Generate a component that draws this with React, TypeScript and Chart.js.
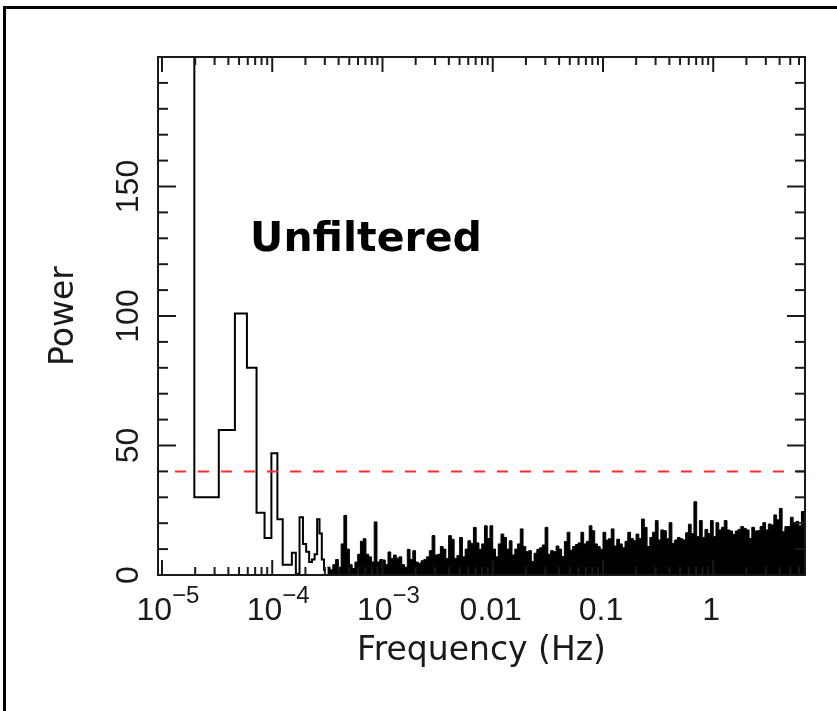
import React, { useEffect, useRef } from 'react';
import { Chart, registerables } from 'chart.js';

Chart.register(...registerables);

// ---------- axis ranges ----------
const FREQ_MIN_HZ = 9.2e-6;
const FREQ_MAX_HZ = 6.8;
const POWER_MIN = 0;
const POWER_MAX = 200;
const THRESHOLD_POWER = 40;

// ---------- data ----------
// frequency resolution of the power spectrum (Hz)
const binWidthHz = 1.31e-5;
// power of the first individual frequency bins k = 1, 2, 3, ...
const lowBinPower = [250, 30, 56, 101, 80, 24, 14.3, 47, 21.5, 4, 4, 8.6, 0.5, 22.3, 12, 9, 5, 6, 8, 21.5, 16, 6, 2];

// dense part of the spectrum: peak power per column, 40 columns per decade
const denseColumnsPerDecade = 40;
const denseDecadeStartHz = [1e-4, 1e-3, 1e-2, 1e-1, 1];
const denseFirstColumn = [20, 0, 0, 0, 0];
const densePower1e4 = [3, 2, 4, 6, 3, 12, 23, 10, 4, 2.5, 5, 8, 13, 14, 8, 7, 5, 20.5, 5, 6];
const densePower1e3 = [5.8, 4, 8.9, 6.4, 7.7, 6.5, 7, 4, 3, 9.9, 6, 9.4, 5, 4.5, 5.5, 6, 7, 9.4, 15.2, 7.7, 8, 11, 10, 6.4, 15.2, 13.8, 6.4, 7.5, 14.5, 7, 10, 13.2, 12.2, 18.4, 12.4, 9.9, 12, 19, 14.1, 19];
const densePower1e2 = [10, 7, 12, 15.8, 14.5, 10, 13.2, 7.7, 10, 12, 17.8, 11, 9, 9.4, 5.2, 8.4, 9.9, 10.5, 11.6, 18.4, 8, 9.4, 9, 11.2, 10, 7.1, 12.9, 16.5, 9.6, 11, 11.8, 12.4, 16.5, 12, 13, 19, 17.1, 12, 11, 9.9];
const densePower1e1 = [16.5, 13.5, 14, 17.8, 11.2, 13.8, 12, 10.5, 13, 16.5, 14.1, 13.2, 15.8, 14, 21.6, 18.4, 11, 14.5, 16.5, 21, 13.5, 17.4, 17.1, 14, 20.2, 12.2, 13.5, 14.5, 14, 13.5, 16.3, 19.6, 16, 28.3, 14.8, 21, 14.5, 17.6, 16, 21];
const densePower1e0 = [14.8, 20.2, 17.4, 18.4, 21, 17.4, 17, 15.7, 17, 17.6, 18.7, 18, 17.4, 14.1, 18.4, 17, 17.1, 18.7, 20.2, 17.4, 19.7, 19.3, 23.2, 21.3, 25.7, 16.7, 18.7, 18.7, 22.3, 20.2, 20.7, 19, 24.5, 24.5];
const densePowerByDecade = [densePower1e4, densePower1e3, densePower1e2, densePower1e1, densePower1e0];

// ---------- ticks and texts ----------
const yMinorStep = 10;
const yMajorStep = 50;
const yTickValues = [0, 50, 100, 150];
const yTickLabels = ['0', '50', '100', '150'];
const xTickValues = [1e-5, 1e-4, 1e-3, 0.01, 0.1, 1];
const xTickMantissa = ['10', '10', '10', '0.01', '0.1', '1'];
const xTickExponent = ['\u22125', '\u22124', '\u22123', '', '', ''];
const xAxisTitle = 'Frequency (Hz)';
const yAxisTitle = 'Power';
const annotationText = 'Unfiltered';
const annotationFreqHz = 6.3e-5;
const annotationPower = 125;

const TICK_FONT = '32px "Liberation Sans", Arial, sans-serif';
const EXP_FONT = '24px "Liberation Sans", Arial, sans-serif';
const TITLE_FONT = '33px "DejaVu Sans", sans-serif';
const NOTE_FONT = 'bold 41px "DejaVu Sans", sans-serif';
const INK = '#1a1a1a';

function buildLowHistogram() {
  const pts: { x: number; y: number }[] = [];
  lowBinPower.forEach((p, i) => {
    const k = i + 1;
    pts.push({ x: (k - 0.5) * binWidthHz, y: p });
  });
  const n = lowBinPower.length;
  pts.push({ x: (n + 0.5) * binWidthHz, y: lowBinPower[n - 1] });
  return pts;
}

function buildDense() {
  const pts: { x: number; y: number }[] = [];
  densePowerByDecade.forEach((arr, d) => {
    arr.forEach((p, j) => {
      const col = denseFirstColumn[d] + j;
      pts.push({ x: denseDecadeStartHz[d] * Math.pow(10, col / denseColumnsPerDecade), y: p });
    });
  });
  pts.push({ x: FREQ_MAX_HZ, y: pts[pts.length - 1].y });
  return pts;
}

const pgplotFrame = {
  id: 'pgplotFrame',
  afterDatasetsDraw(chart: any) {
    const { ctx, chartArea: a, scales } = chart;
    const xs = scales.x;
    const ys = scales.y;
    ctx.save();
    ctx.strokeStyle = INK;
    ctx.lineWidth = 2;
    ctx.lineCap = 'butt';
    const seg = (x1: number, y1: number, x2: number, y2: number) => {
      ctx.beginPath();
      ctx.moveTo(x1, y1);
      ctx.lineTo(x2, y2);
      ctx.stroke();
    };
    ctx.strokeRect(a.left, a.top, a.right - a.left, a.bottom - a.top);

    for (let v = POWER_MIN; v <= POWER_MAX; v += yMinorStep) {
      const y = ys.getPixelForValue(v);
      const len = v % yMajorStep === 0 ? 18 : 10;
      seg(a.left, y, a.left + len, y);
      seg(a.right, y, a.right - len, y);
    }
    for (let e = -6; e <= 1; e++) {
      for (let m = 1; m <= 9; m++) {
        const f = m * Math.pow(10, e);
        if (f < FREQ_MIN_HZ || f > FREQ_MAX_HZ) continue;
        const x = xs.getPixelForValue(f);
        const len = m === 1 ? 15 : 8;
        seg(x, a.bottom, x, a.bottom - len);
        seg(x, a.top, x, a.top + len);
      }
    }

    ctx.fillStyle = INK;
    ctx.textBaseline = 'alphabetic';
    // x tick labels
    xTickValues.forEach((v, i) => {
      const px = xs.getPixelForValue(v);
      ctx.font = TICK_FONT;
      const mw = ctx.measureText(xTickMantissa[i]).width;
      ctx.font = EXP_FONT;
      const ew = xTickExponent[i] ? ctx.measureText(xTickExponent[i]).width : 0;
      const start = px - (mw + ew) / 2 + (ew ? 6 : -2);
      ctx.textAlign = 'left';
      ctx.font = TICK_FONT;
      ctx.fillText(xTickMantissa[i], start, a.bottom + 45);
      if (ew) {
        ctx.font = EXP_FONT;
        ctx.fillText(xTickExponent[i], start + mw, a.bottom + 28);
      }
    });
    // y tick labels (rotated)
    ctx.font = TICK_FONT;
    ctx.textAlign = 'center';
    yTickValues.forEach((v, i) => {
      const py = ys.getPixelForValue(v);
      ctx.save();
      ctx.translate(a.left - 20, py);
      ctx.rotate(-Math.PI / 2);
      ctx.fillText(yTickLabels[i], 0, 0);
      ctx.restore();
    });
    // axis titles
    ctx.font = TITLE_FONT;
    ctx.textAlign = 'center';
    ctx.fillText(xAxisTitle, (a.left + a.right) / 2, a.bottom + 85);
    ctx.save();
    ctx.translate(a.left - 85, (a.top + a.bottom) / 2);
    ctx.rotate(-Math.PI / 2);
    ctx.fillText(yAxisTitle, 0, 0);
    ctx.restore();
    // annotation
    ctx.font = NOTE_FONT;
    ctx.fillStyle = '#000';
    ctx.textAlign = 'left';
    ctx.fillText(annotationText, xs.getPixelForValue(annotationFreqHz), ys.getPixelForValue(annotationPower));
    ctx.restore();
  },
};

export default function App() {
  const canvasRef = useRef<HTMLCanvasElement | null>(null);

  useEffect(() => {
    if (!canvasRef.current) return;
    const chart = new Chart(canvasRef.current, {
      type: 'line',
      data: {
        datasets: [
          {
            label: 'Detection threshold',
            data: [
              { x: binWidthHz, y: THRESHOLD_POWER },
              { x: FREQ_MAX_HZ, y: THRESHOLD_POWER },
            ],
            borderColor: '#ff2a2a',
            borderWidth: 2,
            borderDash: [11, 12],
            pointRadius: 0,
            fill: false,
          },
          {
            label: 'Low-frequency bins',
            data: buildLowHistogram(),
            borderColor: '#000',
            borderWidth: 2,
            stepped: true,
            pointRadius: 0,
            fill: false,
          },
          {
            label: 'Dense spectrum',
            data: buildDense(),
            borderColor: '#000',
            backgroundColor: '#000',
            borderWidth: 1,
            stepped: true,
            pointRadius: 0,
            fill: 'origin',
          },
        ],
      },
      options: {
        animation: false,
        responsive: false,
        devicePixelRatio: 1,
        layout: { padding: { left: 158, top: 57, right: 32, bottom: 136 } },
        plugins: { legend: { display: false }, tooltip: { enabled: false } },
        elements: { point: { radius: 0 } },
        scales: {
          x: { type: 'logarithmic', min: FREQ_MIN_HZ, max: FREQ_MAX_HZ, display: false },
          y: { type: 'linear', min: POWER_MIN, max: POWER_MAX, display: false },
        },
      },
      plugins: [pgplotFrame],
    } as any);
    return () => chart.destroy();
  }, []);

  return (
    <div style={{ position: 'absolute', left: 0, top: 0, width: 837, height: 711, overflow: 'hidden', background: '#fff' }}>
      <canvas ref={canvasRef} width={837} height={711} style={{ display: 'block', position: 'absolute', left: 0, top: 0 }} />
      <div style={{ position: 'absolute', left: 3, top: 6, width: 900, height: 800, border: '3px solid #000', pointerEvents: 'none' }} />
    </div>
  );
}
